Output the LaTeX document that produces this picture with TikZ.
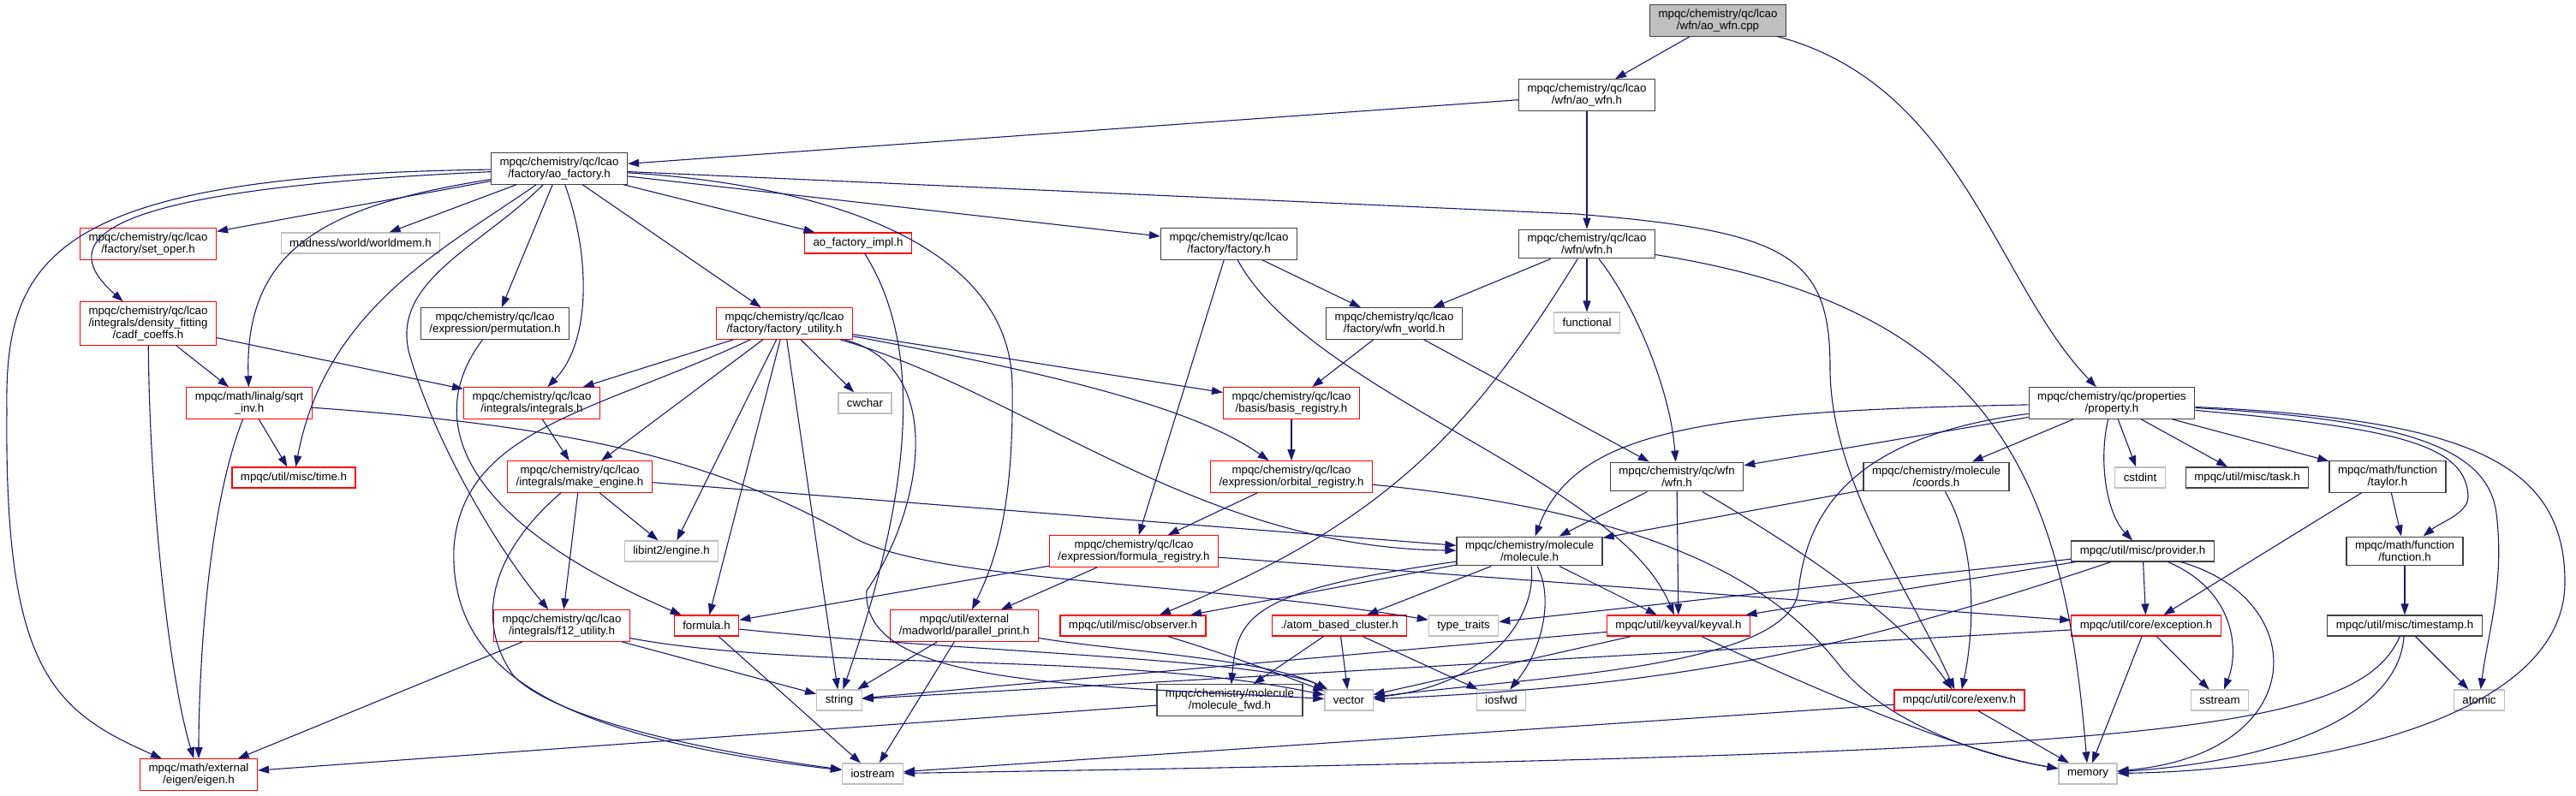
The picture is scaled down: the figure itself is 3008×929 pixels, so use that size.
\documentclass[tikz,border=0pt]{standalone}
\usepackage{fontspec}
\setmainfont{Liberation Sans}
\usepackage{tikz}
\usetikzlibrary{arrows.meta}
\definecolor{edgeblue}{HTML}{191970}
\definecolor{sysgrey}{HTML}{BFBFBF}
\definecolor{boxdark}{HTML}{404040}

\tikzset{
  hdr/.style={rectangle,align=center,inner xsep=10pt,inner ysep=5pt,minimum height=24pt,
    line width=1.2pt,font=\fontsize{13.3}{14}\selectfont},
  blackbox/.style={hdr,draw=boxdark},
  redbox/.style={hdr,draw=red},
  greybox/.style={hdr,draw=sysgrey},
  rootbox/.style={hdr,draw=boxdark,fill=sysgrey},
  dep/.style={draw=edgeblue,line width=1.1pt,-{Triangle[length=13pt,width=9pt]}}
}

\begin{document}
\begin{tikzpicture}[x=1pt,y=-1pt]
  \useasboundingbox (0,0) rectangle (3008,929);

  \node[rootbox] (cpp) at (2006,24) {mpqc/chemistry/qc/lcao\\/wfn/ao\_wfn.cpp};
  \foreach \n/\x/\y/\txt in {
      aowfn/1853/111/{mpqc/chemistry/qc/lcao\\/wfn/ao\_wfn.h},
      aofac/653/197/{mpqc/chemistry/qc/lcao\\/factory/ao\_factory.h},
      factory/1435/285/{mpqc/chemistry/qc/lcao\\/factory/factory.h},
      lwfn/1853/285/{mpqc/chemistry/qc/lcao\\/wfn/wfn.h},
      perm/578/378/{mpqc/chemistry/qc/lcao\\/expression/permutation.h},
      wfnworld/1628/378/{mpqc/chemistry/qc/lcao\\/factory/wfn\_world.h},
      property/2466/471/{mpqc/chemistry/qc/properties\\/property.h},
      qwfn/1958/557/{mpqc/chemistry/qc/wfn\\/wfn.h},
      coords/2261/557/{mpqc/chemistry/molecule\\/coords.h},
      task/2624/558/{mpqc/util/misc/task.h},
      taylor/2788/557/{mpqc/math/function\\/taylor.h},
      molecule/1786/644/{mpqc/chemistry/molecule\\/molecule.h},
      provider/2502/644/{mpqc/util/misc/provider.h},
      function/2808/644/{mpqc/math/function\\/function.h},
      timestamp/2808/731/{mpqc/util/misc/timestamp.h},
      molfwd/1436/818/{mpqc/chemistry/molecule\\/molecule\_fwd.h}} {
    \node[blackbox] (\n) at (\x,\y) {\txt};
  }
  \foreach \n/\x/\y/\txt in {
      setoper/173/285/{mpqc/chemistry/qc/lcao\\/factory/set\_oper.h},
      aofacimpl/1002/284/{ao\_factory\_impl.h},
      cadf/173/378/{mpqc/chemistry/qc/lcao\\/integrals/density\_fitting\\/cadf\_coeffs.h},
      facutil/916/378/{mpqc/chemistry/qc/lcao\\/factory/factory\_utility.h},
      sqrtinv/291/471/{mpqc/math/linalg/sqrt\\\_inv.h},
      integrals/621/471/{mpqc/chemistry/qc/lcao\\/integrals/integrals.h},
      basisreg/1508/471/{mpqc/chemistry/qc/lcao\\/basis/basis\_registry.h},
      time/343/558/{mpqc/util/misc/time.h},
      makeeng/677/557/{mpqc/chemistry/qc/lcao\\/integrals/make\_engine.h},
      orbreg/1508/557/{mpqc/chemistry/qc/lcao\\/expression/orbital\_registry.h},
      formreg/1324/644/{mpqc/chemistry/qc/lcao\\/expression/formula\_registry.h},
      f12/656/731/{mpqc/chemistry/qc/lcao\\/integrals/f12\_utility.h},
      formula/825/731/{formula.h},
      parprint/1126/731/{mpqc/util/external\\/madworld/parallel\_print.h},
      observer/1323/731/{mpqc/util/misc/observer.h},
      abc/1564/731/{./atom\_based\_cluster.h},
      keyval/1960/731/{mpqc/util/keyval/keyval.h},
      exception/2506/731/{mpqc/util/core/exception.h},
      exenv/2288/818/{mpqc/util/core/exenv.h},
      eigen/232/905/{mpqc/math/external\\/eigen/eigen.h}} {
    \node[redbox] (\n) at (\x,\y) {\txt};
  }
  \foreach \n/\x/\y/\txt in {
      worldmem/421/284/{madness/world/worldmem.h},
      functional/1853/377/{functional},
      cwchar/1010/471/{cwchar},
      cstdint/2499/558/{cstdint},
      libint/784/644/{libint2/engine.h},
      typetraits/1709/731/{type\_traits},
      string/980/818/{string},
      vector/1575/818/{vector},
      iosfwd/1753/818/{iosfwd},
      sstream/2592/818/{sstream},
      atomic/2895/818/{atomic},
      iostream/1019/904/{iostream},
      memory/2438/904/{memory}} {
    \node[greybox] (\n) at (\x,\y) {\txt};
  }

  % straight includes
  \foreach \src/\dst in {cpp/aowfn, aowfn/aofac, aowfn/lwfn,
      aofac/setoper, aofac/worldmem, aofac/aofacimpl, aofac/factory, aofac/perm, aofac/facutil,
      cadf/sqrtinv, cadf/integrals, sqrtinv/time, integrals/makeeng,
      facutil/integrals, facutil/cwchar, facutil/basisreg, facutil/makeeng, facutil/libint,
      facutil/formula, facutil/string, makeeng/libint, makeeng/f12, makeeng/molecule,
      factory/wfnworld, factory/formreg, lwfn/wfnworld, lwfn/functional,
      wfnworld/basisreg, wfnworld/qwfn, basisreg/orbreg, orbreg/formreg,
      formreg/formula, formreg/parprint, formreg/exception,
      property/qwfn, property/coords, property/cstdint, property/task, property/taylor,
      taylor/function, taylor/exception, function/timestamp, timestamp/atomic,
      qwfn/molecule, qwfn/keyval, coords/molecule,
      molecule/observer, molecule/abc, molecule/keyval,
      abc/molfwd, abc/vector, abc/iosfwd, keyval/vector, keyval/string,
      provider/keyval, provider/typetraits, provider/exception,
      exception/sstream, exception/memory, exception/string,
      exenv/memory, exenv/iostream, f12/eigen, f12/string, formula/iostream,
      parprint/string, parprint/iostream, molfwd/eigen} {
    \draw[dep] (\src) -- (\dst);
  }

  % curved includes
  \draw[dep] (cpp) .. controls (2290,100) and (2330,330) .. (property);
  \draw[dep] (aofac) .. controls (60,205) and (5,300) .. (8,480) .. controls (5,780) and (60,830) .. (eigen);
  \draw[dep] (aofac) .. controls (150,220) and (50,270) .. (cadf);
  \draw[dep] (aofac) .. controls (380,240) and (285,290) .. (sqrtinv);
  \draw[dep] (aofac) .. controls (520,290) and (380,360) .. (time);
  \draw[dep] (aofac) .. controls (560,290) and (450,330) .. (480,420) .. controls (510,520) and (580,640) .. (f12);
  \draw[dep] (aofac) .. controls (690,300) and (690,400) .. (integrals);
  \draw[dep] (aofac) .. controls (950,215) and (1180,280) .. (1182,450) .. controls (1184,600) and (1160,660) .. (parprint);
  \draw[dep] (aofac) -- (1840,250) .. controls (2090,270) and (2137,300) .. (2137,430) .. controls (2137,560) and (2230,690) .. (exenv);
  \draw[dep] (aofacimpl) .. controls (1075,400) and (1070,560) .. (string);
  \draw[dep] (cadf) .. controls (175,600) and (200,800) .. (eigen);
  \draw[dep] (sqrtinv) .. controls (240,600) and (232,800) .. (eigen);
  \draw[dep] (sqrtinv) .. controls (700,500) and (850,545) .. (1000,630) .. controls (1100,680) and (1400,680) .. (typetraits);
  \draw[dep] (perm) .. controls (500,480) and (520,600) .. (formula);
  \draw[dep] (facutil) .. controls (1250,440) and (1400,480) .. (orbreg);
  \draw[dep] (facutil) .. controls (1200,460) and (1400,640) .. (molecule);
  \draw[dep] (facutil) .. controls (700,480) and (540,500) .. (530,640) .. controls (525,780) and (640,860) .. (iostream);
  \draw[dep] (facutil) .. controls (1110,430) and (1075,600) .. (1012,690) .. controls (1005,800) and (1250,800) .. (vector);
  \draw[dep] (makeeng) .. controls (580,640) and (550,720) .. (600,790) .. controls (660,850) and (880,885) .. (iostream);
  \draw[dep] (factory) .. controls (1530,460) and (1890,560) .. (keyval);
  \draw[dep] (lwfn) .. controls (1720,500) and (1620,610) .. (observer);
  \draw[dep] (lwfn) .. controls (1905,350) and (1950,450) .. (qwfn);
  \draw[dep] (lwfn) .. controls (2330,360) and (2410,560) .. (memory);
  \draw[dep] (orbreg) .. controls (1950,600) and (2080,690) .. (2150,780) .. controls (2200,840) and (2300,880) .. (memory);
  \draw[dep] (property) .. controls (2000,480) and (1840,500) .. (molecule);
  \draw[dep] (property) .. controls (2160,510) and (2110,600) .. (2100,690) .. controls (2090,780) and (1800,790) .. (vector);
  \draw[dep] (property) .. controls (2450,540) and (2460,600) .. (provider);
  \draw[dep] (property) .. controls (2800,500) and (2880,520) .. (2882,580) .. controls (2882,600) and (2850,610) .. (function);
  \draw[dep] (property) .. controls (2800,490) and (2905,520) .. (2915,600) .. controls (2925,680) and (2905,740) .. (atomic);
  \draw[dep] (property) .. controls (2880,490) and (2995,540) .. (2995,680) .. controls (2995,840) and (2700,900) .. (memory);
  \draw[dep] (provider) .. controls (2610,690) and (2615,760) .. (sstream);
  \draw[dep] (provider) .. controls (2700,700) and (2700,880) .. (memory);
  \draw[dep] (provider) to[bend left=8] (vector);
  \draw[dep] (qwfn) .. controls (2100,640) and (2220,720) .. (exenv);
  \draw[dep] (coords) .. controls (2310,640) and (2305,740) .. (exenv);
  \draw[dep] (molecule) .. controls (1795,720) and (1740,800) .. (vector);
  \draw[dep] (molecule) .. controls (1815,700) and (1800,760) .. (iosfwd);
  \draw[dep] (molecule) .. controls (1460,690) and (1445,720) .. (molfwd);
  \draw[dep] (keyval) .. controls (2150,820) and (2300,880) .. (memory);
  \draw[dep] (timestamp) .. controls (2750,860) and (2500,880) .. (iostream);
  \draw[dep] (timestamp) .. controls (2800,840) and (2650,890) .. (memory);
  \draw[dep] (f12) .. controls (950,785) and (1300,760) .. (vector);
  \draw[dep] (formula) .. controls (1100,760) and (1480,770) .. (vector);
  \draw[dep] (parprint) .. controls (1300,760) and (1480,770) .. (vector);
  \draw[dep] (observer) .. controls (1450,770) and (1500,790) .. (vector);
\end{tikzpicture}
\end{document}
